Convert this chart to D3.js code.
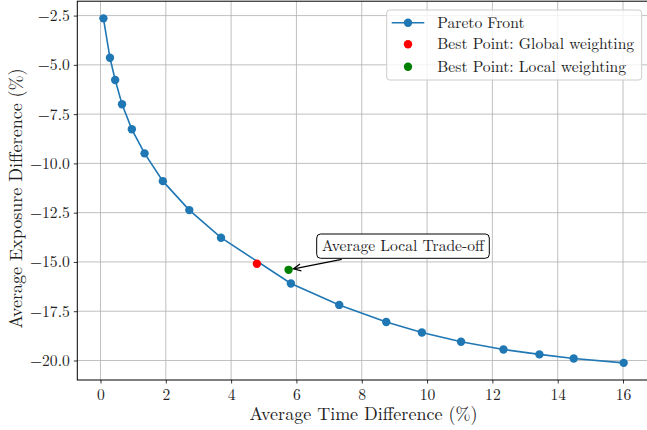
<!DOCTYPE html>
<html><head><meta charset="utf-8">
<script src="https://cdn.jsdelivr.net/npm/d3@7"></script>
<style>body{margin:0;background:#fff}svg{display:block}</style>
</head><body><svg id="c" width="647" height="430"></svg>
<script>
const paretoX = [0.09, 0.29, 0.45, 0.66, 0.96, 1.35, 1.91, 2.72, 3.69, 5.83, 7.31, 8.75, 9.84, 11.04, 12.34, 13.44, 14.49, 16.02];
const paretoY = [-2.64, -4.64, -5.77, -7.0, -8.27, -9.49, -10.9, -12.37, -13.77, -16.09, -17.18, -18.05, -18.58, -19.05, -19.44, -19.69, -19.9, -20.12];
const globalBest = [4.79, -15.09];
const localBest = [5.76, -15.40];
const xTicks = [0, 2, 4, 6, 8, 10, 12, 14, 16];
const yTicks = [-2.5, -5.0, -7.5, -10.0, -12.5, -15.0, -17.5, -20.0];
const legendLabels = ["Pareto Front", "Best Point: Global weighting", "Best Point: Local weighting"];
const annotationText = "Average Local Trade-off";
const xLabel = "Average Time Difference (%)";
const yLabel = "Average Exposure Difference (%)";

const FONT = '"Latin Modern Roman","CMU Serif","Liberation Serif",serif';
const FS = "15.6px";
const svg = d3.select("#c");
const L = 77.3, R = 649.8, T = 1.2, B = 380;
const x = d3.scaleLinear().domain([-0.71, 16.82]).range([L, R]);
const y = d3.scaleLinear().domain([-20.99, -1.77]).range([B, T]);
const blue = "#1f77b4";
const fmtY = d => (d < 0 ? "\u2212" : "") + Math.abs(d).toFixed(1);

// grid
const g = svg.append("g");
g.selectAll(".gx").data(xTicks).join("line").attr("x1", d => x(d)).attr("x2", d => x(d)).attr("y1", T).attr("y2", B).attr("stroke", "#b0b0b0").attr("stroke-width", 0.8);
g.selectAll(".gy").data(yTicks).join("line").attr("y1", d => y(d)).attr("y2", d => y(d)).attr("x1", L).attr("x2", R).attr("stroke", "#b0b0b0").attr("stroke-width", 0.8);

// axes
const xa = svg.append("g").attr("transform", `translate(0,${B})`).call(d3.axisBottom(x).tickValues(xTicks).tickSize(3.5).tickPadding(5).tickFormat(d3.format("d")));
const ya = svg.append("g").attr("transform", `translate(${L},0)`).call(d3.axisLeft(y).tickValues(yTicks).tickSize(3.5).tickPadding(4).tickFormat(fmtY));
[xa, ya].forEach(a => { a.select(".domain").remove(); a.selectAll("line").attr("stroke", "#000").attr("stroke-width", 0.8); a.selectAll("text").style("font-family", FONT).style("font-size", FS).attr("fill", "#222"); });
svg.append("rect").attr("x", L).attr("y", T).attr("width", R - L).attr("height", B - T).attr("fill", "none").attr("stroke", "#000").attr("stroke-width", 1);

// labels
svg.append("text").attr("x", 363.5).attr("y", 420).attr("text-anchor", "middle").style("font-family", FONT).style("font-size", "18px").attr("fill", "#222").text(xLabel);
svg.append("text").attr("transform", `translate(22,198.5) rotate(-90)`).attr("text-anchor", "middle").style("font-family", FONT).style("font-size", "18px").attr("fill", "#222").text(yLabel);

// pareto line
const pts = paretoX.map((v, i) => [v, paretoY[i]]);
svg.append("path").datum(pts).attr("d", d3.line().x(d => x(d[0])).y(d => y(d[1]))).attr("fill", "none").attr("stroke", blue).attr("stroke-width", 1.6);
svg.selectAll(".pt").data(pts).join("circle").attr("cx", d => x(d[0])).attr("cy", d => y(d[1])).attr("r", 4.2).attr("fill", blue);
svg.append("circle").attr("cx", x(globalBest[0])).attr("cy", y(globalBest[1])).attr("r", 4.2).attr("fill", "red");
svg.append("circle").attr("cx", x(localBest[0])).attr("cy", y(localBest[1])).attr("r", 4.2).attr("fill", "green");

// annotation
const ag = svg.append("g");
ag.append("rect").attr("x", 316.7).attr("y", 234).attr("width", 172.6).attr("height", 24.3).attr("rx", 4).attr("fill", "#fff").attr("stroke", "#000").attr("stroke-width", 1);
ag.append("text").attr("x", 403).attr("y", 251).attr("text-anchor", "middle").style("font-family", FONT).style("font-size", FS).attr("fill", "#222").text(annotationText);
const sx = 341.7, sy = 259.3;
const ex = x(localBest[0]) + 5, ey = y(localBest[1]) - 1;
svg.append("line").attr("x1", sx).attr("y1", sy).attr("x2", ex).attr("y2", ey).attr("stroke", "#000").attr("stroke-width", 1.3);
const ang = Math.atan2(sy - ey, sx - ex);
const hl = 8, hw = 0.45;
svg.append("path").attr("d", `M${ex + hl * Math.cos(ang + hw)},${ey + hl * Math.sin(ang + hw)}L${ex},${ey}L${ex + hl * Math.cos(ang - hw)},${ey + hl * Math.sin(ang - hw)}`).attr("fill", "none").attr("stroke", "#000").attr("stroke-width", 1.3);

// legend
const lg = svg.append("g");
lg.append("rect").attr("x", 386.7).attr("y", 10).attr("width", 255).attr("height", 70).attr("rx", 3).attr("fill", "#fff").attr("fill-opacity", 0.8).attr("stroke", "#ccc").attr("stroke-width", 1);
const rowsY = [22.7, 44.3, 66.7];
lg.append("line").attr("x1", 391.7).attr("x2", 424.3).attr("y1", rowsY[0]).attr("y2", rowsY[0]).attr("stroke", blue).attr("stroke-width", 1.6);
lg.append("circle").attr("cx", 408).attr("cy", rowsY[0]).attr("r", 4.2).attr("fill", blue);
lg.append("circle").attr("cx", 408).attr("cy", rowsY[1]).attr("r", 4.2).attr("fill", "red");
lg.append("circle").attr("cx", 408).attr("cy", rowsY[2]).attr("r", 4.2).attr("fill", "green");
lg.selectAll(".lt").data(legendLabels).join("text").attr("x", 437.3).attr("y", (d, i) => rowsY[i] + 5).style("font-family", FONT).style("font-size", FS).attr("fill", "#222").text(d => d);
</script></body></html>
